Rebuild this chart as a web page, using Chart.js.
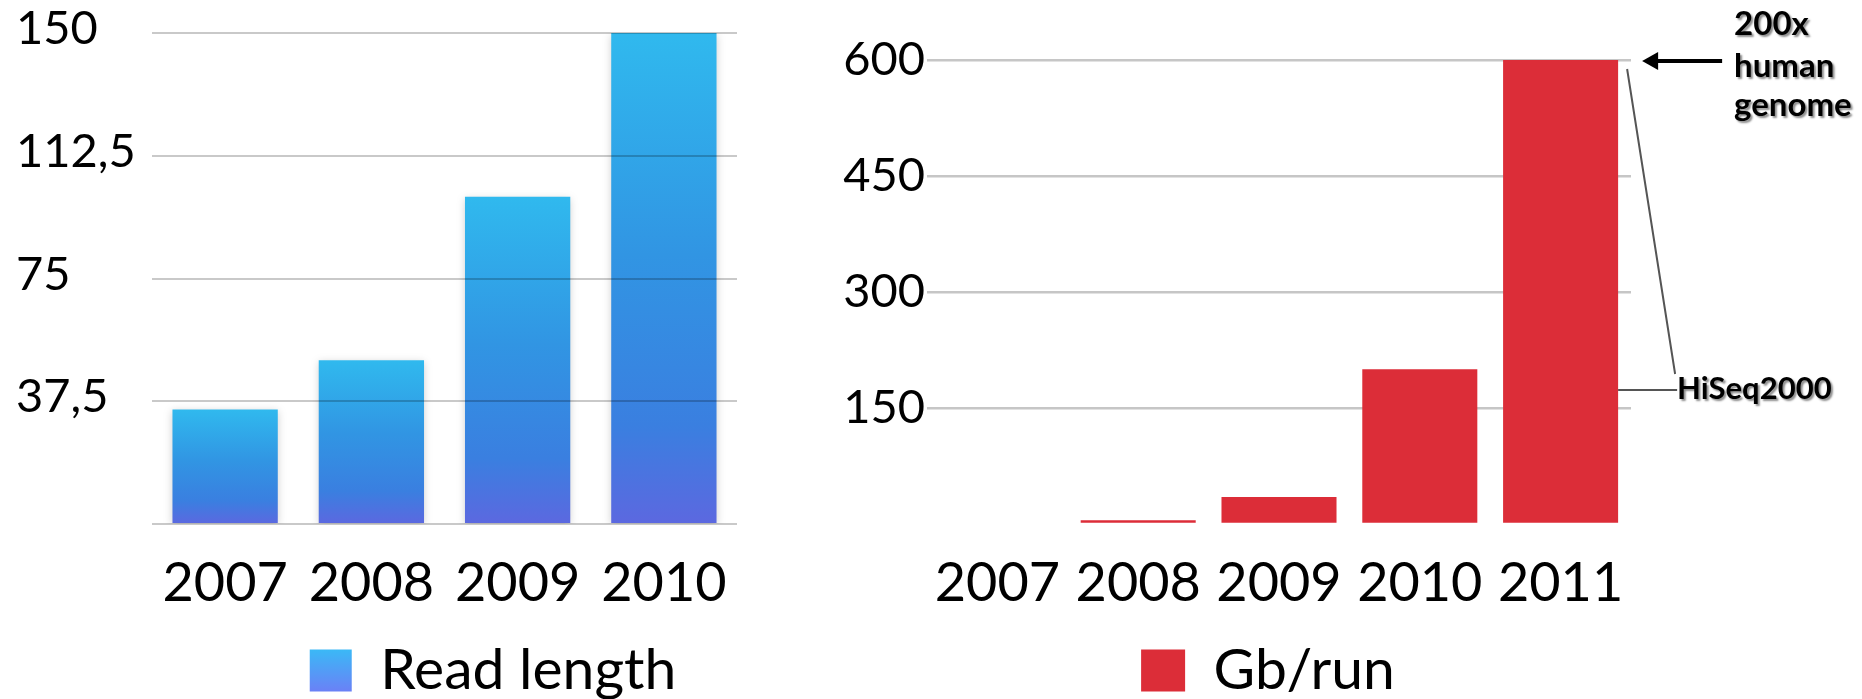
<!DOCTYPE html>
<html>
<head>
<meta charset="utf-8">
<title>Read length and Gb per run</title>
<script src="https://cdn.jsdelivr.net/npm/chart.js@4.4.1/dist/chart.umd.min.js"></script>
<style>
  html, body { margin: 0; padding: 0; background: #fff; width: 1862px; height: 699px; overflow: hidden; }
  #readChart { position: absolute; left: 0; top: 0; }
  #runChart { position: absolute; left: 674px; top: 0; }
</style>
</head>
<body>
<canvas id="readChart" width="970" height="709"></canvas>
<canvas id="runChart" width="1188" height="709"></canvas>
<script>
// Read length per year (bp)
const readYears = ['2007', '2008', '2009', '2010'];
const readLength = [35, 50, 100, 150];
const readTicks = [0, 37.5, 75, 112.5, 150];

// Output per run (Gb)
const runYears = ['2007', '2008', '2009', '2010', '2011'];
const gbPerRun = [0, 5, 35, 200, 600];
const runTicks = [0, 150, 300, 450, 600];

const genomeNote = ['200x', 'human', 'genome'];
const instrumentNote = 'HiSeq2000';

Chart.defaults.font.family = 'Lato';
Chart.defaults.color = '#000';

const commaLabel = v => (v === 0 ? '' : String(v).replace('.', ','));

function blueGradient(ctx, top, bottom) {
  const g = ctx.createLinearGradient(0, top, 0, bottom);
  g.addColorStop(0, '#30b9ee');
  g.addColorStop(0.45, '#3195e3');
  g.addColorStop(0.8, '#3a7fe0');
  g.addColorStop(1, '#5c68e0');
  return g;
}

function readBarColor(context) {
  const chart = context.chart;
  if (!chart.chartArea || !context.parsed) return '#3189e0';
  const y = chart.scales.y;
  return blueGradient(chart.ctx, y.getPixelForValue(context.parsed.y), y.getPixelForValue(0));
}

// soft glow under the blue bars
const barShadow = {
  id: 'barShadow',
  beforeDatasetsDraw(chart) {
    const ctx = chart.ctx;
    ctx.save();
    ctx.shadowColor = 'rgba(0,0,0,0.18)';
    ctx.shadowBlur = 8;
    ctx.shadowOffsetY = 2;
  },
  afterDatasetsDraw(chart) { chart.ctx.restore(); }
};

new Chart(document.getElementById('readChart'), {
  type: 'bar',
  data: {
    labels: readYears,
    datasets: [{
      label: 'Read length',
      data: readLength,
      backgroundColor: readBarColor,
      borderWidth: 0,
      barPercentage: 0.72,
      categoryPercentage: 1
    }]
  },
  options: {
    responsive: false,
    animation: false,
    devicePixelRatio: 1,
    layout: { padding: { left: 16, top: 33, right: 0, bottom: 0 } },
    plugins: {
      tooltip: { enabled: false },
      legend: {
        position: 'bottom',
        labels: {
          font: { size: 57 },
          boxWidth: 42,
          boxHeight: 42,
          padding: 10,
          color: '#000',
          generateLabels(chart) {
            const items = Chart.defaults.plugins.legend.labels.generateLabels(chart);
            const h = chart.height;
            items.forEach(it => {
              const g = chart.ctx.createLinearGradient(0, h - 59, 0, h - 17);
              g.addColorStop(0, '#3bb8f6');
              g.addColorStop(1, '#6b80f6');
              it.fillStyle = g;
              it.strokeStyle = 'rgba(0,0,0,0)';
              it.lineWidth = 0;
            });
            return items;
          }
        }
      }
    },
    scales: {
      x: {
        grid: { display: false },
        border: { display: false },
        ticks: { font: { size: 54 }, padding: 19, maxRotation: 0, autoSkip: false },
        afterFit(s) { s.height = 108; }
      },
      y: {
        min: 0,
        max: 150,
        afterBuildTicks(s) { s.ticks = readTicks.map(v => ({ value: v })); },
        grid: { color: 'rgba(0,0,0,0.21)', lineWidth: 2, drawTicks: false, z: 1 },
        border: { display: false },
        ticks: { crossAlign: 'far', font: { size: 47 }, labelOffset: -4, callback: commaLabel },
        afterFit(s) { s.width = 136; }
      },
      pad: {
        type: 'linear',
        position: 'right',
        grid: { display: false },
        border: { display: false },
        ticks: { display: false },
        afterFit(s) { s.width = 233; }
      }
    }
  },
  plugins: [barShadow]
});

// arrow and leader line notes beside the tallest red bar
const runNotes = {
  id: 'runNotes',
  afterDraw(chart) {
    const ctx = chart.ctx;
    const meta = chart.getDatasetMeta(0);
    const bar = meta.data[meta.data.length - 1];
    const right = bar.x + bar.width / 2;
    const yTop = chart.scales.y.getPixelForValue(gbPerRun[gbPerRun.length - 1]);

    ctx.save();
    // leader lines to the instrument name
    ctx.strokeStyle = '#555';
    ctx.lineWidth = 2;
    ctx.beginPath();
    ctx.moveTo(right + 9, yTop + 9);
    ctx.lineTo(right + 57, yTop + 314);
    ctx.moveTo(right, yTop + 330);
    ctx.lineTo(right + 59, yTop + 330);
    ctx.stroke();

    // arrow pointing at the top of the bar
    ctx.strokeStyle = '#000';
    ctx.fillStyle = '#000';
    ctx.lineWidth = 4;
    ctx.beginPath();
    ctx.moveTo(right + 104, yTop + 1);
    ctx.lineTo(right + 36, yTop + 1);
    ctx.stroke();
    ctx.beginPath();
    ctx.moveTo(right + 24, yTop + 1);
    ctx.lineTo(right + 40, yTop - 8);
    ctx.lineTo(right + 40, yTop + 10);
    ctx.closePath();
    ctx.fill();

    // labels
    ctx.shadowColor = 'rgba(0,0,0,0.45)';
    ctx.shadowOffsetX = 2;
    ctx.shadowOffsetY = 2;
    ctx.shadowBlur = 2;
    ctx.font = 'bold 33px Lato';
    ctx.textAlign = 'left';
    ctx.textBaseline = 'alphabetic';
    const lines = [yTop - 25, yTop + 17, yTop + 56];
    genomeNote.forEach((t, i) => ctx.fillText(t, right + 116, lines[i]));
    ctx.font = 'bold 31px Lato';
    ctx.textBaseline = 'middle';
    ctx.fillText(instrumentNote, right + 59, yTop + 329);
    ctx.restore();
  }
};

new Chart(document.getElementById('runChart'), {
  type: 'bar',
  data: {
    labels: runYears,
    datasets: [{
      label: 'Gb/run',
      data: gbPerRun,
      backgroundColor: '#dc2d38',
      borderWidth: 0,
      barPercentage: 0.817,
      categoryPercentage: 1
    }]
  },
  options: {
    responsive: false,
    animation: false,
    devicePixelRatio: 1,
    layout: { padding: { left: 0, top: 60, right: 0, bottom: 0 } },
    plugins: {
      tooltip: { enabled: false },
      legend: {
        position: 'bottom',
        labels: {
          font: { size: 57 },
          boxWidth: 44,
          boxHeight: 42,
          padding: 10,
          color: '#000',
          generateLabels(chart) {
            const items = Chart.defaults.plugins.legend.labels.generateLabels(chart);
            items.forEach(it => { it.strokeStyle = 'rgba(0,0,0,0)'; it.lineWidth = 0; });
            return items;
          }
        }
      }
    },
    scales: {
      x: {
        grid: { display: false },
        border: { display: false },
        ticks: { font: { size: 54 }, padding: 19, maxRotation: 0, autoSkip: false },
        afterFit(s) { s.height = 108; }
      },
      y: {
        min: 0,
        max: 600,
        afterBuildTicks(s) { s.ticks = runTicks.map(v => ({ value: v })); },
        grid: {
          color: c => (c.tick && c.tick.value === 0 ? 'rgba(0,0,0,0)' : '#c6c6c6'),
          lineWidth: 2.5,
          drawTicks: false
        },
        border: { display: false },
        ticks: { font: { size: 47 }, padding: 2, callback: commaLabel },
        afterFit(s) { s.width = 253; }
      },
      pad: {
        type: 'linear',
        position: 'right',
        grid: { display: false },
        border: { display: false },
        ticks: { display: false },
        afterFit(s) { s.width = 231; }
      }
    }
  },
  plugins: [runNotes]
});
</script>
</body>
</html>
